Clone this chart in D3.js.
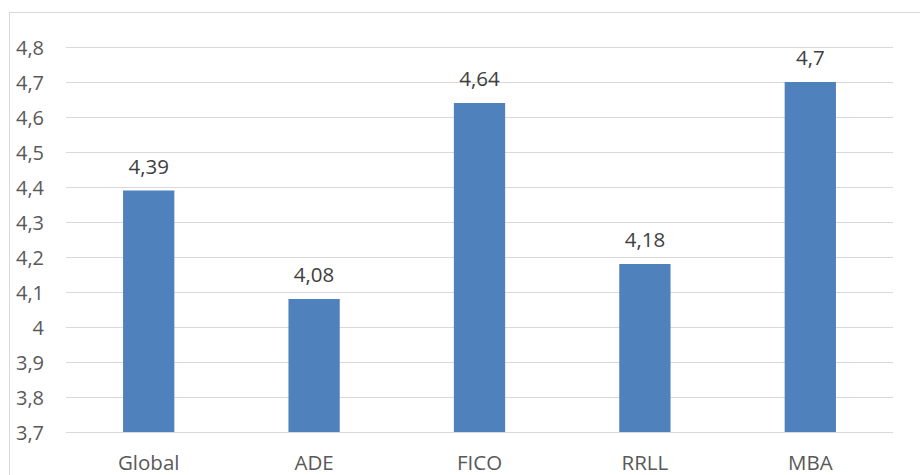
<!DOCTYPE html>
<html>
<head>
<meta charset="utf-8">
<script src="https://cdn.jsdelivr.net/npm/d3@7"></script>
<style>
  html, body { margin: 0; padding: 0; background: #fff; }
  svg { display: block; }
</style>
</head>
<body>
<svg id="chart" width="920" height="475"></svg>
<script>
// Average score per programme
const categories = ["Global", "ADE", "FICO", "RRLL", "MBA"];
const values = [4.39, 4.08, 4.64, 4.18, 4.7];
const yTicks = [3.7, 3.8, 3.9, 4.0, 4.1, 4.2, 4.3, 4.4, 4.5, 4.6, 4.7, 4.8];

const svg = d3.select("#chart");
const font = "'Open Sans', 'Noto Sans', sans-serif";
const fmt = v => String(+v.toFixed(2)).replace(".", ",");

// chart frame
svg.append("rect")
  .attr("x", 9.5).attr("y", 12.5)
  .attr("width", 930).attr("height", 480)
  .attr("fill", "none").attr("stroke", "#d9d9d9").attr("stroke-width", 1);

const plotLeft = 66, plotRight = 893, plotTop = 47, plotBottom = 432;

const x = d3.scaleBand().domain(categories).range([plotLeft, plotRight]).paddingInner(0.69).paddingOuter(0.345);
const y = d3.scaleLinear().domain([3.7, 4.8]).range([plotBottom, plotTop]);

// horizontal gridlines
svg.append("g").selectAll("line").data(yTicks).join("line")
  .attr("x1", plotLeft).attr("x2", plotRight)
  .attr("y1", d => Math.round(y(d)) + 0.5).attr("y2", d => Math.round(y(d)) + 0.5)
  .attr("stroke", "#d9d9d9").attr("stroke-width", 1);

// y-axis tick labels
const yAxis = d3.axisLeft(y).tickValues(yTicks).tickFormat(fmt).tickSize(0).tickPadding(0);
const gy = svg.append("g").attr("transform", "translate(44,0)").call(yAxis);
gy.select(".domain").remove();
gy.selectAll("text")
  .attr("font-family", font).attr("font-size", 20).attr("fill", "#595959")
  .attr("dy", "0.36em");

// bars
svg.append("g").selectAll("rect").data(values).join("rect")
  .attr("x", (d, i) => x(categories[i]))
  .attr("width", x.bandwidth())
  .attr("y", d => y(d))
  .attr("height", d => plotBottom - y(d))
  .attr("fill", "#4f81bd");

// value labels
svg.append("g").selectAll("text").data(values).join("text")
  .attr("x", (d, i) => x(categories[i]) + x.bandwidth() / 2)
  .attr("y", d => y(d) - 17)
  .attr("text-anchor", "middle")
  .attr("font-family", font).attr("font-size", 20.5).attr("fill", "#404040")
  .text(fmt);

// category axis labels
const xAxis = d3.axisBottom(x).tickSize(0).tickPadding(0);
const gx = svg.append("g").attr("transform", `translate(0,${plotBottom})`).call(xAxis);
gx.select(".domain").remove();
gx.selectAll("text")
  .attr("font-family", font).attr("font-size", 20.5).attr("fill", "#595959")
  .attr("y", 38).attr("dy", 0);
</script>
</body>
</html>
